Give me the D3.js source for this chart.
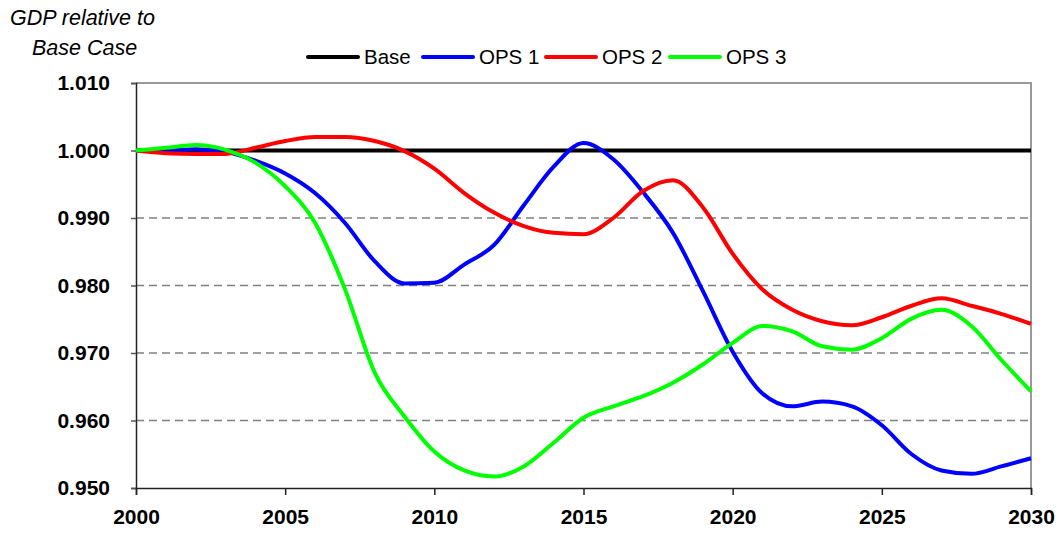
<!DOCTYPE html>
<html>
<head>
<meta charset="utf-8">
<script src="https://cdn.jsdelivr.net/npm/d3@7"></script>
<style>
  body { margin: 0; background: #fff; }
  svg text { font-family: "Liberation Sans", Arial, sans-serif; }
</style>
</head>
<body>
<div id="chart"></div>
<script>
// years on the x axis
var years = d3.range(2000, 2031);

// GDP relative to base case
var base = years.map(function () { return 1.000; });
var ops1 = [1.0000, 1.0000, 1.0002, 0.9998, 0.9985, 0.9966, 0.9937, 0.9893, 0.9836, 0.9803, 0.9804,
            0.9831, 0.9860, 0.9919, 0.9976, 1.0011, 0.9987, 0.9938, 0.9878, 0.9792, 0.9702,
            0.9640, 0.9621, 0.9628, 0.9621, 0.9593, 0.9550, 0.9526, 0.9521, 0.9532, 0.9544];
var ops2 = [1.0000, 0.9996, 0.9995, 0.9995, 1.0004, 1.0014, 1.0020, 1.0020, 1.0014, 0.9999, 0.9973,
            0.9937, 0.9908, 0.9888, 0.9878, 0.9876, 0.9900, 0.9940, 0.9956, 0.9916, 0.9847,
            0.9794, 0.9764, 0.9747, 0.9741, 0.9753, 0.9770, 0.9781, 0.9770, 0.9758, 0.9743];
var ops3 = [1.0000, 1.0004, 1.0008, 1.0001, 0.9982, 0.9947, 0.9893, 0.9795, 0.9671, 0.9606, 0.9554,
            0.9526, 0.9517, 0.9532, 0.9567, 0.9604, 0.9621, 0.9636, 0.9656, 0.9683, 0.9715,
            0.9740, 0.9732, 0.9710, 0.9705, 0.9722, 0.9751, 0.9764, 0.9740, 0.9690, 0.9643];

var seriesNames = ["Base", "OPS 1", "OPS 2", "OPS 3"];
var seriesColors = ["#000000", "#0000ff", "#ff0000", "#00ff00"];
var seriesValues = [base, ops1, ops2, ops3];

var xTicks = [2000, 2005, 2010, 2015, 2020, 2025, 2030];
var yTicks = [0.950, 0.960, 0.970, 0.980, 0.990, 1.000, 1.010];

var width = 1060, height = 534;
var margin = { top: 83, right: 29, bottom: 46, left: 136 };

var svg = d3.select("#chart").append("svg")
  .attr("width", width)
  .attr("height", height);

var x = d3.scaleLinear().domain([2000, 2030]).range([margin.left, width - margin.right]);
var y = d3.scaleLinear().domain([0.950, 1.010]).range([height - margin.bottom, margin.top]);

// dashed grid
svg.append("g")
  .selectAll("line")
  .data(yTicks.filter(function (d) { return d > 0.951 && d < 1.009; }))
  .join("line")
  .attr("x1", x(2000)).attr("x2", x(2030))
  .attr("y1", function (d) { return y(d); })
  .attr("y2", function (d) { return y(d); })
  .attr("stroke", "#808080")
  .attr("stroke-width", 1.5)
  .attr("stroke-dasharray", "8,5");

// grey top and right border
svg.append("path")
  .attr("d", "M" + x(2000) + "," + y(1.010) + "H" + x(2030) + "V" + y(0.950))
  .attr("fill", "none")
  .attr("stroke", "#999")
  .attr("stroke-width", 2);

// axes
var yAxis = svg.append("g")
  .attr("transform", "translate(" + x(2000) + ",0)")
  .call(d3.axisLeft(y).tickValues(yTicks).tickFormat(d3.format(".3f")).tickSize(5).tickPadding(21));
yAxis.select(".domain").attr("stroke", "#222").attr("stroke-width", 1.5);
yAxis.selectAll(".tick line").attr("stroke", "#555").attr("stroke-width", 1.5);
yAxis.selectAll("text")
  .attr("font-size", 21).attr("font-weight", "bold").attr("fill", "#000");

var xAxis = svg.append("g")
  .attr("transform", "translate(0," + y(0.950) + ")")
  .call(d3.axisBottom(x).tickValues(xTicks).tickFormat(d3.format("d")).tickSize(7).tickPadding(14));
xAxis.select(".domain").attr("stroke", "#222").attr("stroke-width", 1.5);
xAxis.selectAll(".tick line").attr("stroke", "#222").attr("stroke-width", 1.5);
xAxis.selectAll("text")
  .attr("font-size", 21).attr("font-weight", "bold").attr("fill", "#000");

// lines
var line = d3.line()
  .x(function (d, i) { return x(years[i]); })
  .y(function (d) { return y(d); })
  .curve(d3.curveMonotoneX);

svg.append("g")
  .selectAll("path")
  .data(seriesValues)
  .join("path")
  .attr("d", line)
  .attr("fill", "none")
  .attr("stroke", function (d, i) { return seriesColors[i]; })
  .attr("stroke-width", 4)
  .attr("stroke-linejoin", "round");

// y title
svg.append("text").attr("x", 10).attr("y", 25)
  .attr("font-size", 21.5).attr("font-style", "italic").text("GDP relative to");
svg.append("text").attr("x", 32).attr("y", 55)
  .attr("font-size", 21.5).attr("font-style", "italic").text("Base Case");

// legend
var legendX = [308, 423, 546, 670];
var lg = svg.append("g").selectAll("g")
  .data(seriesNames)
  .join("g")
  .attr("transform", function (d, i) { return "translate(" + legendX[i] + ",57)"; });
lg.append("line")
  .attr("x1", 0).attr("x2", 50)
  .attr("stroke", function (d, i) { return seriesColors[i]; })
  .attr("stroke-width", 4)
  .attr("stroke-linecap", "round");
lg.append("text")
  .attr("x", 56).attr("y", 7)
  .attr("font-size", 20.5)
  .text(function (d) { return d; });
</script>
</body>
</html>
